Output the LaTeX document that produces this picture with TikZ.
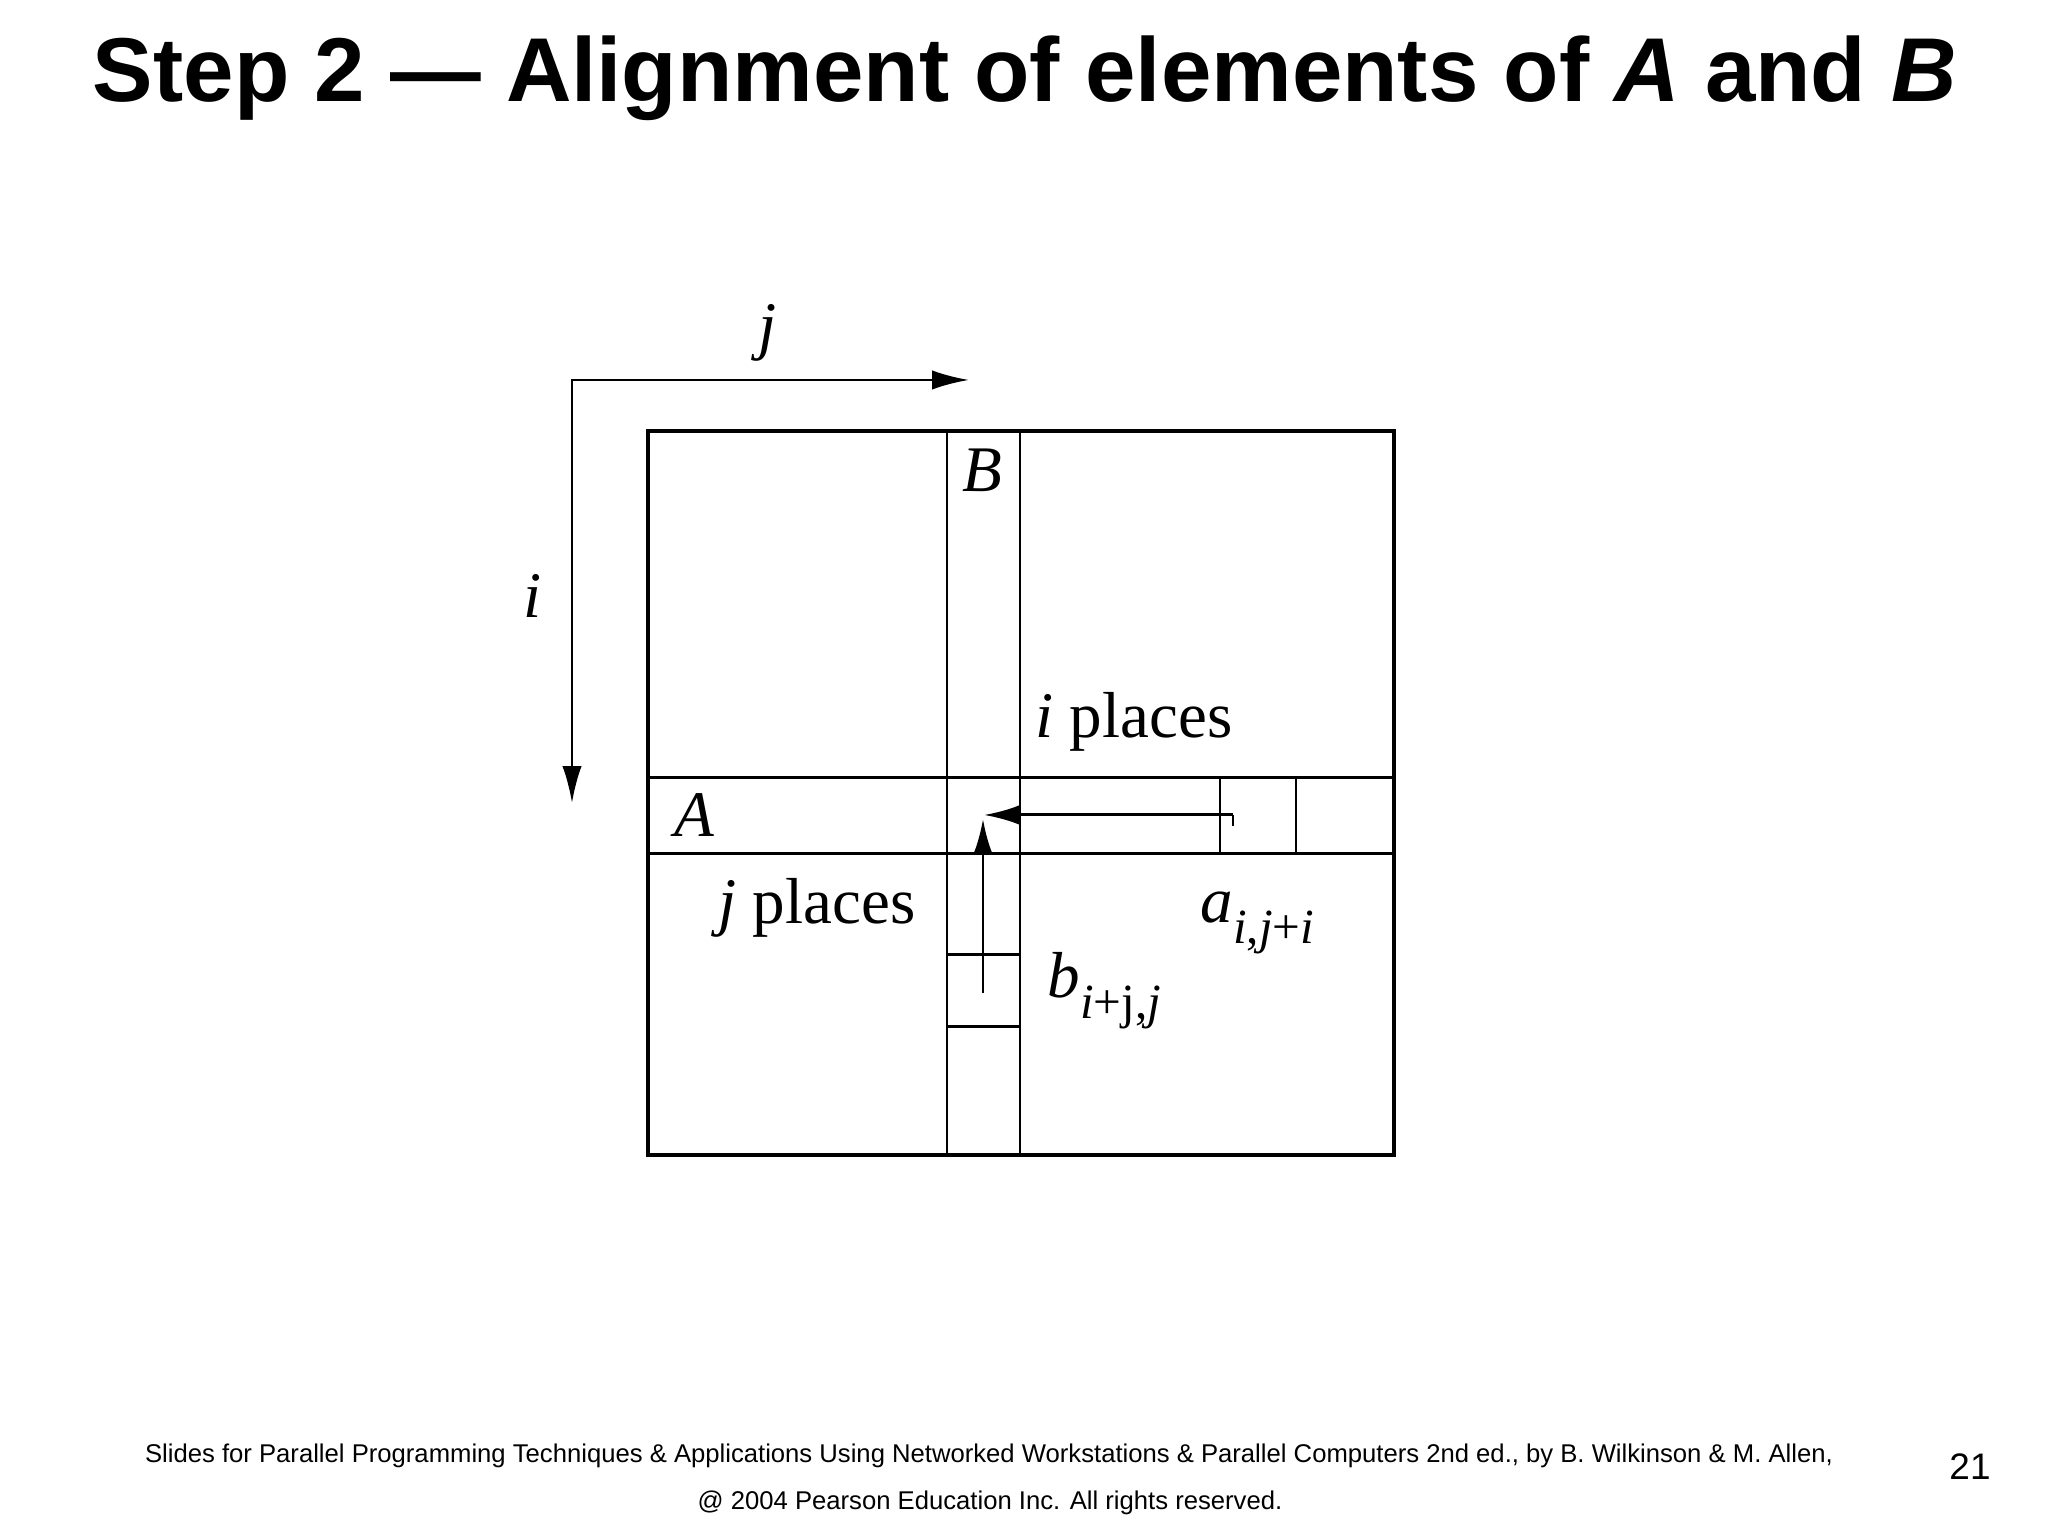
\documentclass[tikz,border=0pt]{standalone}
\usepackage{fontspec}
\setmainfont{Liberation Serif}
\newfontfamily\slidefont{Liberation Sans}
\usepackage{tikz}
\usetikzlibrary{arrows.meta}

\newcommand{\lowsub}[1]{\raisebox{-0.32em}{\fontsize{14}{16}\selectfont #1}}

\begin{document}
\begin{tikzpicture}[
	frame/.style={line width=1.4pt},
	cell line/.style={line width=0.85pt},
	axis arrow/.style={line width=0.75pt, {Latex[length=10.5pt, width=5.5pt]}-{Latex[length=10.5pt, width=5.5pt]}},
	shift arrow/.style={line width=0.85pt, -{Latex[length=10pt, width=5.5pt]}},
	label/.style={font=\fontsize{18.5}{20}\selectfont, inner sep=0pt},
]

\def \pw{20.48cm}
\def \ph{15.36cm}

\newcommand{\xp}[1]{#1 / 2048 * \pw}
\newcommand{\yp}[1]{\ph - #1 / 1536 * \ph}

\useasboundingbox (0, 0) rectangle (\pw, \ph);

% title and footer
\node[anchor=base, font=\slidefont\bfseries\fontsize{25.8}{30}\selectfont] (title) at (\xp{1025}, \yp{102}) {Step 2 — Alignment of elements of \textit{A} and \textit{B}};
\node[anchor=base, font=\slidefont\fontsize{7.3}{8}\selectfont] (credit) at (\xp{989}, \yp{1463}) {Slides for Parallel Programming Techniques \& Applications Using Networked Workstations \& Parallel Computers 2nd ed., by B. Wilkinson \& M. Allen,};
\node[anchor=base, font=\slidefont\fontsize{7.3}{8}\selectfont] (copyright) at (\xp{990}, \yp{1510}) {@ 2004 Pearson Education Inc. All rights reserved.};
\node[anchor=base, font=\slidefont\fontsize{10.5}{12}\selectfont] (page) at (\xp{1970}, \yp{1480}) {21};

% matrix with row A and column B
\draw[frame] (\xp{648}, \yp{431}) rectangle (\xp{1394}, \yp{1155}); % outer square
\foreach \x in {947, 1020} {
	\draw[cell line] (\xp{\x}, \yp{431}) -- (\xp{\x}, \yp{1155}); % column B
}
\foreach \y in {778, 854} {
	\draw[cell line] (\xp{648}, \yp{\y}) -- (\xp{1394}, \yp{\y}); % row A
}
\foreach \x in {1220, 1296} {
	\draw[cell line] (\xp{\x}, \yp{778}) -- (\xp{\x}, \yp{854}); % cell a
}
\foreach \y in {955, 1027} {
	\draw[cell line] (\xp{947}, \yp{\y}) -- (\xp{1020}, \yp{\y}); % cell b
}

% index directions
\coordinate (origin) at (\xp{572}, \yp{380});
\coordinate (j end) at (\xp{969}, \yp{380});
\coordinate (i end) at (\xp{572}, \yp{803});
\draw[axis arrow] (j end) -- (origin) -- (i end);

\node[label] (j dir) at (\xp{768}, \yp{333}) {\textit{j}};
\node[label] (i dir) at (\xp{533}, \yp{596}) {\textit{i}};

% shifts
\coordinate (a start) at (\xp{1233}, \yp{815});
\coordinate (a end) at (\xp{984}, \yp{815});
\coordinate (b start) at (\xp{983}, \yp{993});
\coordinate (b end) at (\xp{983}, \yp{819});
\draw[shift arrow] (a start) -- (a end);
\draw[cell line] (a start) -- ++(0, -3pt);
\draw[shift arrow] (b start) -- (b end);

\node[label] (B) at (\xp{982}, \yp{470}) {\textit{B}};
\node[label] (A) at (\xp{694}, \yp{815}) {\textit{A}};
\node[label] (i places) at (\xp{1134}, \yp{722}) {\textit{i} places};
\node[label] (j places) at (\xp{817}, \yp{908}) {\textit{j} places};
\node[label, anchor=base west] (a elem) at (\xp{1200}, \yp{923}) {\textit{a}\lowsub{\textit{i},\textit{j}+\textit{i}}};
\node[label, anchor=base west] (b elem) at (\xp{1047}, \yp{998}) {\textit{b}\lowsub{\textit{i}+j,\textit{j}}};

\end{tikzpicture}
\end{document}
